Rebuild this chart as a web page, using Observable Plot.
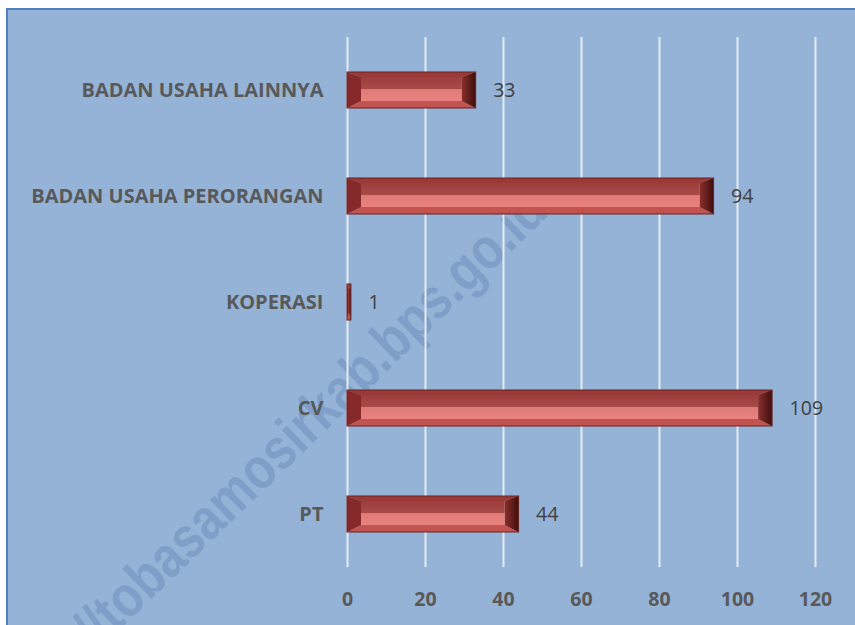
<!DOCTYPE html>
<html>
<head>
<meta charset="utf-8">
<script src="https://cdn.jsdelivr.net/npm/d3@7"></script>
<script src="https://cdn.jsdelivr.net/npm/@observablehq/plot@0.6"></script>
<style>
  html, body { margin: 0; padding: 0; background: #ffffff; }
  #wrap { position: relative; width: 855px; height: 625px; overflow: hidden; }
  #bg { position: absolute; left: 6px; top: 8px; right: 0; bottom: 0;
        background: #95B3D7; border-left: 2px solid #4F81BD; border-top: 2px solid #4F81BD; }
  #chart { position: absolute; left: 0; top: 0; }
</style>
</head>
<body>
<div id="wrap"><div id="bg"></div><div id="chart"></div></div>
<script>
const categories = ["BADAN USAHA LAINNYA", "BADAN USAHA PERORANGAN", "KOPERASI", "CV", "PT"];
const values = [33, 94, 1, 109, 44];
const xTicks = [0, 20, 40, 60, 80, 100, 120];
const watermark = "http://tobasamosirkab.bps.go.id";

const data = categories.map((c, i) => ({category: c, value: values[i]}));

const chart = Plot.plot({
  width: 855,
  height: 625,
  marginLeft: 347,
  marginRight: 40,
  marginTop: 37,
  marginBottom: 58,
  style: {background: "transparent", fontFamily: "'Open Sans', Lato, sans-serif"},
  x: {domain: [0, 120], ticks: xTicks, label: null, tickSize: 0, tickPadding: 26},
  y: {domain: categories, label: null, tickSize: 0, tickPadding: 24, paddingInner: 0.66, paddingOuter: 0.33},
  marks: [
    Plot.gridX(xTicks, {stroke: "#E6EBF2", strokeOpacity: 1, strokeWidth: 2}),
    Plot.axisX({ticks: xTicks, tickSize: 0, tickPadding: 25, fontSize: 19.5, fontWeight: "bold", fill: "#595959", label: null}),
    Plot.axisY({tickSize: 0, tickPadding: 24, fontSize: 20, fontWeight: "bold", fill: "#595959", label: null}),
    Plot.barX(data, {x: "value", y: "category", fill: "#9E3C3A"}),
    Plot.text(data, {x: "value", y: "category", text: d => String(d.value), dx: 17, textAnchor: "start",
      fontSize: 19.5, fill: "#404040"})
  ]
});

document.getElementById("chart").appendChild(chart);

const svgNS = "http://www.w3.org/2000/svg";

// watermark behind the marks
const wm = document.createElementNS(svgNS, "text");
wm.setAttribute("transform", "translate(550,214) rotate(-44) scale(0.84,1)");
wm.setAttribute("text-anchor", "end");
wm.setAttribute("font-size", "58");
wm.setAttribute("font-weight", "bold");
wm.setAttribute("font-family", "'Liberation Sans', Arial, sans-serif");
wm.setAttribute("fill", "#7F9FC9");
wm.textContent = watermark;
chart.insertBefore(wm, chart.firstChild.nextSibling);

// gradients
const defs = document.createElementNS(svgNS, "defs");
defs.innerHTML = `
<linearGradient id="inner" x1="0" y1="0" x2="0" y2="1">
  <stop offset="0" stop-color="#9C3E3B"/>
  <stop offset="0.5" stop-color="#A84A47"/>
  <stop offset="0.5" stop-color="#E07A77"/>
  <stop offset="1" stop-color="#E8837F"/>
</linearGradient>
<linearGradient id="right" x1="0" y1="0" x2="1" y2="0">
  <stop offset="0" stop-color="#8A2F2C"/>
  <stop offset="1" stop-color="#3E0E0C"/>
</linearGradient>`;
chart.insertBefore(defs, chart.firstChild);

// turn each bar rect (placed by Plot's scales) into a bevelled bar
chart.querySelectorAll('g[aria-label="bar"] rect').forEach(r => {
  const x = +r.getAttribute("x"), y = +r.getAttribute("y");
  const w = +r.getAttribute("width"), h = +r.getAttribute("height");
  const bx = Math.min(14, w / 2), bt = 5, bb = 7;
  const O = {l: x, r: x + w, t: y, b: y + h};
  const I = {l: x + bx, r: x + w - bx, t: y + bt, b: y + h - bb};
  const g = document.createElementNS(svgNS, "g");
  const poly = (pts, fill) => {
    const p = document.createElementNS(svgNS, "polygon");
    p.setAttribute("points", pts.map(q => q.join(",")).join(" "));
    p.setAttribute("fill", fill);
    g.appendChild(p);
  };
  poly([[O.l, O.t], [O.r, O.t], [I.r, I.t], [I.l, I.t]], "#9A3936");
  poly([[O.l, O.b], [O.r, O.b], [I.r, I.b], [I.l, I.b]], "#C25350");
  poly([[O.l, O.t], [I.l, I.t], [I.l, I.b], [O.l, O.b]], "#86292A");
  poly([[O.r, O.t], [I.r, I.t], [I.r, I.b], [O.r, O.b]], "url(#right)");
  if (I.r > I.l) {
    const ir = document.createElementNS(svgNS, "rect");
    ir.setAttribute("x", I.l); ir.setAttribute("y", I.t);
    ir.setAttribute("width", I.r - I.l); ir.setAttribute("height", I.b - I.t);
    ir.setAttribute("fill", "url(#inner)");
    g.appendChild(ir);
  }
  const ol = document.createElementNS(svgNS, "rect");
  ol.setAttribute("x", x); ol.setAttribute("y", y);
  ol.setAttribute("width", w); ol.setAttribute("height", h);
  ol.setAttribute("fill", "none"); ol.setAttribute("stroke", "#6A2321"); ol.setAttribute("stroke-width", "1");
  g.appendChild(ol);
  r.replaceWith(g);
});
</script>
</body>
</html>
